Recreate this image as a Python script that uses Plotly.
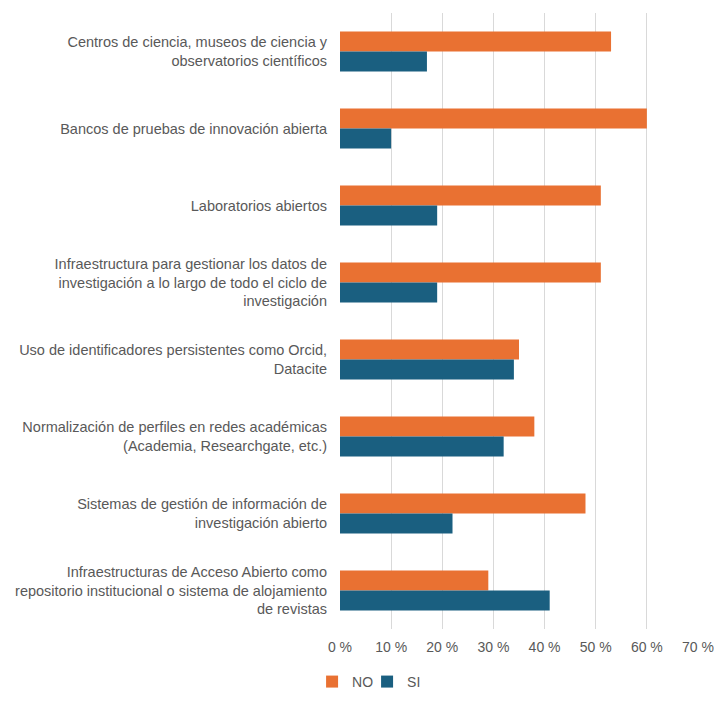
import plotly.graph_objects as go

categories = [
    "Centros de ciencia, museos de ciencia y<br>observatorios científicos",
    "Bancos de pruebas de innovación abierta",
    "Laboratorios abiertos",
    "Infraestructura para gestionar los datos de<br>investigación a lo largo de todo el ciclo de<br>investigación",
    "Uso de identificadores persistentes como Orcid,<br>Datacite",
    "Normalización de perfiles en redes académicas<br>(Academia, Researchgate, etc.)",
    "Sistemas de gestión de información de<br>investigación abierto",
    "Infraestructuras de Acceso Abierto como<br>repositorio institucional o sistema de alojamiento<br>de revistas",
]
no_values = [53, 60, 51, 51, 35, 38, 48, 29]
si_values = [17, 10, 19, 19, 34, 32, 22, 41]
x_ticks = [0, 10, 20, 30, 40, 50, 60, 70]

FONT = "Liberation Sans, Arial, sans-serif"
TXT = "#595959"

fig = go.Figure()
fig.add_trace(go.Bar(y=categories, x=no_values, name="NO", orientation="h",
                     marker=dict(color="#E97132", line=dict(width=0))))
fig.add_trace(go.Bar(y=categories, x=si_values, name="SI", orientation="h",
                     marker=dict(color="#1A5F80", line=dict(width=0))))

fig.update_layout(
    width=714, height=695,
    margin=dict(l=332, r=24, t=5, b=74),
    paper_bgcolor="white", plot_bgcolor="white",
    barmode="group", bargap=0.48, bargroupgap=0,
    font=dict(family=FONT, size=14, color=TXT),
    legend=dict(orientation="h", x=-0.078, xanchor="left", y=-0.086, yanchor="middle",
                font=dict(size=14, color=TXT), itemwidth=30, traceorder="normal",
                entrywidth=10, entrywidthmode="pixels"),
    showlegend=True,
)
fig.update_xaxes(range=[0, 70], tickvals=x_ticks, ticktext=[f"{v} %" for v in x_ticks],
                 showgrid=True, gridcolor="#D9D9D9", gridwidth=1, zeroline=False,
                 showline=False, ticks="", ticklabelstandoff=8,
                 tickfont=dict(size=14, color=TXT))
fig.update_yaxes(autorange="reversed", showgrid=False, showline=False, ticks="",
                 ticklabelstandoff=12, tickfont=dict(size=14.5, color=TXT))

fig.write_html("out.html")
